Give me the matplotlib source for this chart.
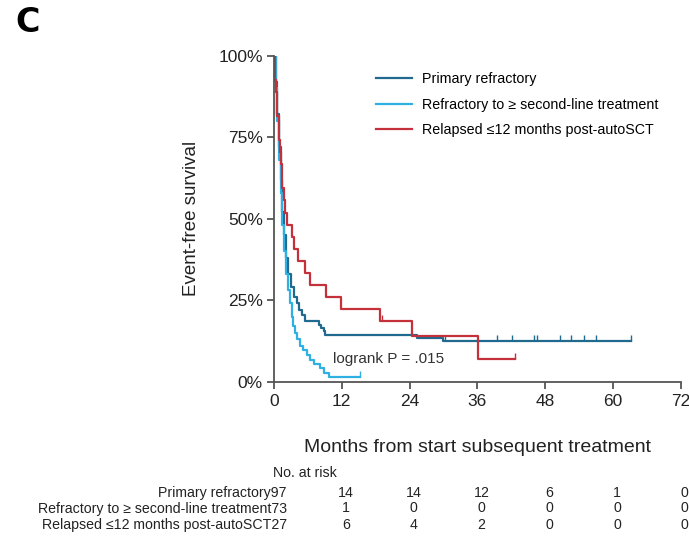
import matplotlib.pyplot as plt
import matplotlib.transforms as mtransforms

plt.rcParams['font.family'] = ['Liberation Sans', 'DejaVu Sans']

# Kaplan-Meier step curves (months, % event-free)
prim_t = [0, 0.3, 0.6, 0.9, 1.2, 1.5, 1.8, 2.1, 2.5, 3.0, 3.5, 4.0, 4.5, 5.0, 5.5,
          7.9, 8.4, 8.8, 9.0, 25.3, 30.0, 63.2]
prim_s = [100, 92, 82, 72, 62, 52, 45, 38, 33, 29, 26, 24, 22, 20.6, 18.6,
          17.5, 16.5, 15.5, 14.4, 13.4, 12.4, 12.4]
prim_cens = [30.2, 39.5, 42.1, 46.0, 46.5, 50.6, 52.5, 54.9, 57.0, 63.2]

refr_t = [0, 0.3, 0.6, 0.9, 1.2, 1.5, 1.8, 2.2, 2.5, 2.8, 3.1, 3.4, 3.7, 4.1, 4.6,
          5.2, 5.8, 6.4, 7.0, 8.2, 8.8, 9.7, 15.2]
refr_s = [100, 90, 80, 68, 58, 48, 40, 33, 28, 24, 20, 17, 15, 13, 11,
          9.6, 8.2, 6.8, 5.5, 4.1, 2.7, 1.4, 1.4]
refr_cens = [15.2]

rel_t = [0, 0.1, 0.2, 0.35, 0.5, 0.6, 0.8, 0.9, 1.05, 1.2, 1.35, 1.5, 1.7, 1.9, 2.3,
         3.2, 3.6, 4.2, 5.5, 6.3, 9.2, 11.9, 18.7, 24.4, 36.1, 42.7]
rel_s = [100, 96.3, 92.6, 88.9, 85.2, 81.5, 77.8, 74.1, 70.4, 66.7, 63.0, 59.3, 55.6, 51.9, 48.1,
         44.4, 40.7, 37.0, 33.3, 29.6, 25.9, 22.2, 18.5, 13.9, 6.9, 6.9]
rel_cens = [19.1, 42.7]

names = ['Primary refractory', 'Refractory to \u2265 second-line treatment',
         'Relapsed \u226412 months post-autoSCT']
colors = ['#1f6a8e', '#2fb0e3', '#c4313b']

risk_times = [0, 12, 24, 36, 48, 60, 72]
prim_risk = [97, 14, 14, 12, 6, 1, 0]
refr_risk = [73, 1, 0, 0, 0, 0, 0]
rel_risk = [27, 6, 4, 2, 0, 0, 0]

fig = plt.figure(figsize=(6.89, 5.38), dpi=100)
ax = fig.add_axes([0.3977, 0.2905, 0.5903, 0.606])

curves = [(prim_t, prim_s, prim_cens), (refr_t, refr_s, refr_cens), (rel_t, rel_s, rel_cens)]
for (t, s, cens), name, col in zip(curves, names, colors):
    ax.step(t, s, where='post', color=col, lw=1.6, label=name)
    # censor marks sit on top of the curve
    for c in cens:
        lvl = s[max(i for i in range(len(t)) if t[i] <= c)]
        ax.vlines(c, lvl, lvl + 2.0, color=col, lw=1.0)

ax.set_xlim(0, 72)
ax.set_ylim(0, 100)
ax.set_xticks(range(0, 73, 12))
ax.set_yticks([0, 25, 50, 75, 100])
ax.set_yticklabels(['0%', '25%', '50%', '75%', '100%'])
for sp in ['top', 'right']:
    ax.spines[sp].set_visible(False)
for sp in ['left', 'bottom']:
    ax.spines[sp].set_color('#555555')
    ax.spines[sp].set_linewidth(1.3)
ax.tick_params(axis='both', labelsize=12.5, color='#555555', width=1.3, length=5,
               labelcolor='#222222')
ax.tick_params(axis='y', pad=3)
ax.set_ylabel('Event-free survival', fontsize=13.5, color='#222222', labelpad=13)
ax.set_xlabel('Months from start subsequent treatment', fontsize=14, color='#222222',
              labelpad=22)

ax.legend(loc='upper left', bbox_to_anchor=(0.5457, 0.866), bbox_transform=fig.transFigure,
          frameon=False, fontsize=10.3, handlelength=2.5, handletextpad=0.7,
          labelspacing=0.8, borderpad=0, borderaxespad=0)

ax.text(10.4, 7.0, 'logrank P = .015', fontsize=11, color='#333333', va='center')

fig.text(27.5 / 689, 1 - 23 / 538, 'C', fontsize=24, fontweight='bold', family='DejaVu Sans',
         va='center', ha='center')

# number-at-risk table
trans = mtransforms.blended_transform_factory(ax.transData, fig.transFigure)
fig.text(337 / 689, 1 - 473 / 538, 'No. at risk', fontsize=10.2, ha='right', va='center',
         color='#222222')
row_y = [1 - 492.7 / 538, 1 - 508.5 / 538, 1 - 525 / 538]
for name, risk, y in zip(names, [prim_risk, refr_risk, rel_risk], row_y):
    fig.text(287 / 689, y, f'{name}{risk[0]}', fontsize=10.2, ha='right', va='center',
             color='#222222')
    for tm, n in zip(risk_times[1:], risk[1:]):
        ax.text(tm + 0.7, y, str(n), fontsize=10.2, ha='center', va='center', color='#222222',
                transform=trans, clip_on=False)

fig.savefig('out.png', dpi=100)
